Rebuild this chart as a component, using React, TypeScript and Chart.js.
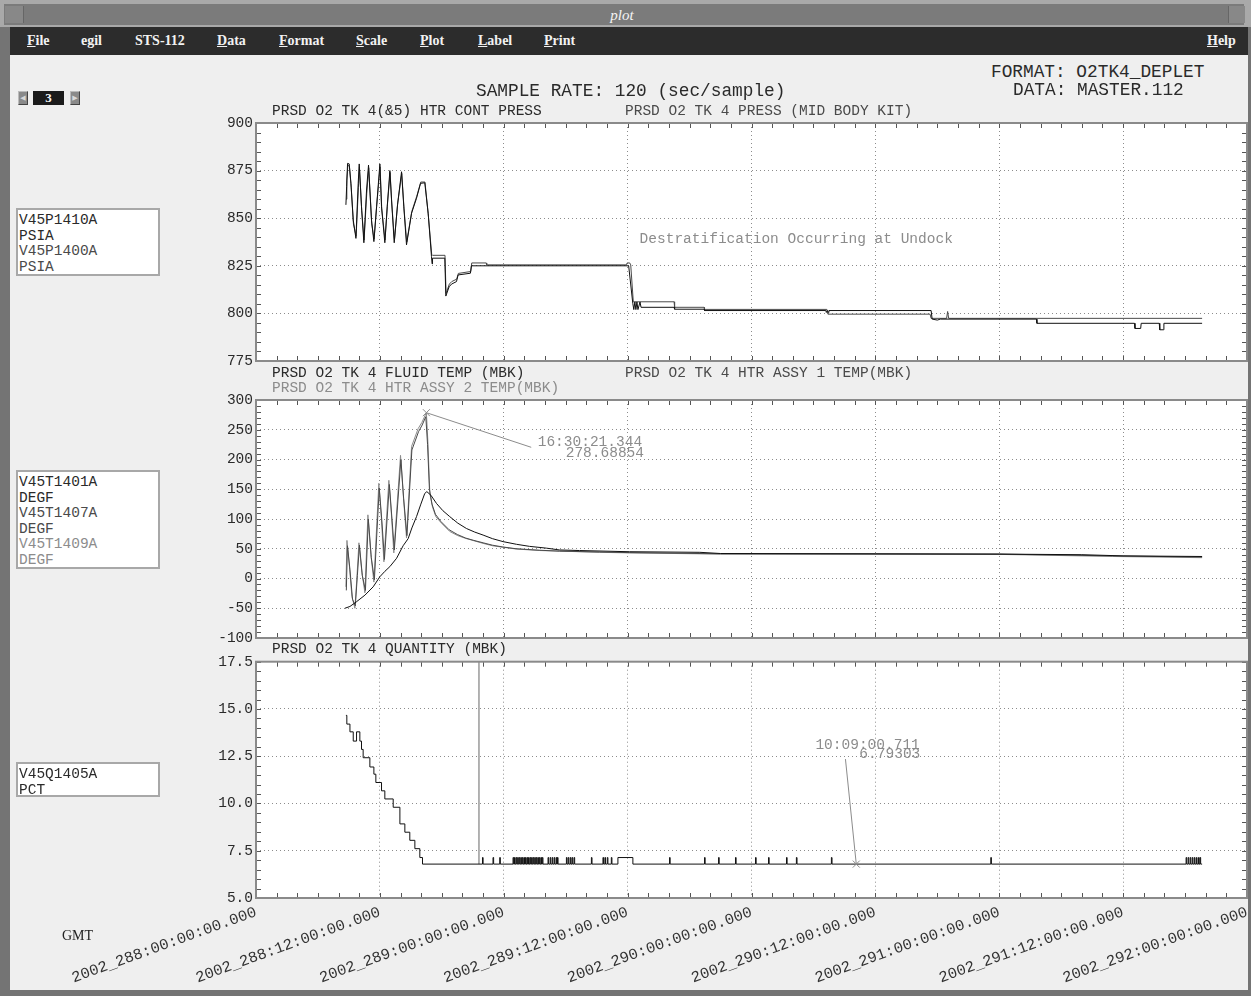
import React, { useEffect, useRef } from 'react';
import { Chart, registerables } from 'chart.js';

Chart.register(...registerables);

const MONO = '"Liberation Mono", "DejaVu Sans Mono", monospace';
const SERIF = '"Liberation Serif", "DejaVu Serif", serif';

// ---------- axes (x in hours since 2002_288:00:00:00.000) ----------
const xStartDay = 288;
const xMaxHours = 96;
const xMajorStep = 12;
const xMinorStep = 2;

const pressAxis = { min: 775, max: 900, step: 25, minor: 5 };
const tempAxis = { min: -100, max: 300, step: 50, minor: 10 };
const qtyAxis = { min: 5, max: 17.5, step: 2.5, minor: 0.5 };

// ---------- series ----------
// V45P1410A  PRSD O2 TK 4(&5) HTR CONT PRESS  [hours, psia]
const pressP1410: [number, number][] = [
  [8.71, 857], [8.78, 866.5], [8.87, 878.8], [9.03, 878.5], [9.2, 868.3], [9.42, 849], [9.68, 839.4],
  [9.9, 868.3], [10.0, 878.5], [10.22, 856], [10.45, 837.1], [10.71, 864.8], [10.9, 877.9], [11.19, 849],
  [11.42, 837.7], [11.68, 856], [12.0, 878.5], [12.16, 856], [12.48, 837.1], [12.71, 856], [12.97, 875],
  [13.13, 859.6], [13.39, 837.1], [13.71, 857], [14.1, 874.4], [14.32, 856], [14.58, 836], [15.07, 852.6],
  [15.55, 860.5], [15.94, 868.3], [16.35, 868.6], [16.68, 852.6], [17.0, 829.8], [17.06, 826], [17.1, 829],
  [18.29, 829], [18.39, 809.1], [18.71, 814], [18.94, 815.4], [19.42, 816.7], [19.58, 820.2], [20.77, 821.1],
  [20.87, 825], [36.1, 825], [36.5, 805.3], [36.6, 802], [36.7, 806], [36.8, 802], [36.9, 806], [37.0, 802],
  [37.2, 806], [37.3, 803.2], [40.5, 803.2], [40.55, 802.2], [43.4, 802.2], [43.45, 801.5], [55.2, 801.5],
  [55.25, 800.5], [55.35, 801.5], [55.45, 800.5], [55.5, 801.5], [65.4, 801.5], [65.5, 797], [66.0, 796.5],
  [66.3, 797], [75.6, 797], [75.65, 794.8], [85.1, 794.8], [85.15, 792.1], [85.7, 792.1], [85.75, 794.8],
  [87.5, 794.8], [87.55, 791.4], [87.9, 791.4], [87.95, 794.8], [91.65, 794.8],
];
// V45P1400A  PRSD O2 TK 4 PRESS (MID BODY KIT)
const pressP1400: [number, number][] = [
  [8.72, 860], [8.8, 870], [8.9, 878], [9.05, 877], [9.22, 866], [9.44, 847], [9.7, 840.5],
  [9.92, 866], [10.02, 877], [10.24, 854], [10.47, 838.5], [10.73, 863], [10.92, 876.5], [11.21, 847],
  [11.44, 839], [11.7, 857], [12.02, 877], [12.18, 855], [12.5, 838.5], [12.73, 857], [12.99, 874],
  [13.15, 858], [13.41, 838.5], [13.73, 858], [14.12, 873.5], [14.34, 855], [14.6, 837.5], [15.09, 853.5],
  [15.57, 861.5], [15.96, 869], [16.37, 869], [16.7, 851], [17.02, 831], [17.1, 830.5], [18.31, 830.5],
  [18.41, 810.5], [18.73, 815.4], [18.96, 816.7], [19.44, 818], [19.6, 821], [20.8, 822], [20.9, 826.5],
  [22.3, 826.5], [22.35, 825.5], [35.9, 825.5], [35.95, 826.5], [36.2, 826.5], [36.3, 825.5], [36.55, 806.1],
  [40.5, 806.1], [40.55, 803.2], [43.4, 803.2], [43.45, 802.1], [55.3, 802.1], [55.4, 799.6], [65.3, 799.6],
  [65.4, 797.4], [66.9, 797.4], [67.0, 801], [67.1, 797.4], [91.65, 797.4],
];

// V45T1401A  PRSD O2 TK 4 FLUID TEMP (MBK)  [hours, degF]
const tempT1401: [number, number][] = [
  [8.61, -50], [9.1, -47], [9.74, -39], [10.55, -28], [11.35, -14], [12.0, 3], [12.48, 12], [12.97, 20],
  [13.62, 34], [14.25, 55], [14.74, 67], [15.1, 85], [15.55, 104], [15.97, 125], [16.35, 143], [16.55, 146],
  [16.94, 140], [17.49, 126], [18.1, 114], [18.77, 104], [19.55, 93], [20.39, 84], [21.19, 78], [22.0, 73],
  [22.9, 67], [23.93, 62], [25.23, 57.5], [26.5, 54], [28.13, 51], [29.4, 48], [31.35, 47], [36.2, 45],
  [43, 44], [45, 42], [60, 41.5], [72, 41], [80, 40], [84, 38], [91.65, 37],
];
// V45T1407A  PRSD O2 TK 4 HTR ASSY 1 TEMP(MBK)
const tempT1407: [number, number][] = [
  [8.75, -20], [8.86, 55], [9.1, 15], [9.35, -35], [9.62, -46], [9.82, 5], [10.02, 56], [10.3, 5],
  [10.6, -20], [10.88, 100], [11.17, 35], [11.47, -2], [11.94, 152], [12.2, 95], [12.44, 32], [12.92, 158],
  [13.15, 105], [13.4, 48], [14.04, 200], [14.3, 135], [14.62, 72], [15.1, 216], [15.75, 247], [16.1, 258],
  [16.45, 272], [16.62, 225], [16.8, 150], [17.05, 125], [17.38, 108], [17.9, 96], [18.7, 82], [19.5, 74],
  [20.3, 68], [21.1, 64], [22.0, 60], [22.9, 56], [23.9, 53], [25.2, 50], [27.5, 47.5], [29.4, 46],
  [33.3, 44.5], [36.2, 43.5], [45, 41.5], [72, 41], [83, 38], [91.65, 36],
];
// V45T1409A  PRSD O2 TK 4 HTR ASSY 2 TEMP(MBK)
const tempT1409: [number, number][] = [
  [8.71, -14], [8.81, 64], [9.05, 20], [9.29, -30], [9.58, -50], [9.77, 0], [9.97, 60], [10.26, 10],
  [10.55, -24], [10.84, 107], [11.13, 40], [11.42, -6], [11.9, 160], [12.15, 100], [12.39, 28], [12.87, 165],
  [13.11, 110], [13.35, 43], [14.0, 207], [14.27, 140], [14.58, 68], [15.07, 222], [15.71, 252], [16.06, 262],
  [16.506, 278.69], [16.65, 230], [16.84, 143], [17.1, 120], [17.42, 104], [17.97, 93], [18.77, 79],
  [19.55, 72], [20.39, 67], [21.2, 63], [22.0, 59], [22.93, 55], [23.93, 52.5], [25.23, 49.5], [27.5, 47],
  [29.4, 46], [33.3, 44], [36.2, 43], [45, 41], [72, 40.5], [83, 37], [91.65, 35],
];

// V45Q1405A  PRSD O2 TK 4 QUANTITY (MBK)  [hours, pct]  (value held until next sample)
const qtyStairs: [number, number][] = [
  [8.71, 14.66], [8.8, 14.2], [9.1, 13.79], [9.42, 13.3], [9.74, 13.79], [10.06, 13.3], [10.22, 12.86],
  [10.38, 12.42], [11.03, 11.93], [11.42, 11.55], [11.61, 11.11], [12.16, 10.67], [12.48, 10.24],
  [13.29, 9.8], [13.94, 8.92], [14.42, 8.48], [14.9, 8.05], [15.39, 7.61], [15.87, 7.14], [16.13, 6.79303],
];
const qtyLow = 6.79303;
const qtyHigh = 7.14;
const qtyDropout: [number, number] = [21.6, 100];
const qtyToggleHours: number[] = [
  21.94, 22.0, 22.96, 23.02, 23.61, 23.67,
  24.9, 24.96, 25.04, 25.1, 25.2, 25.26, 25.35, 25.41, 25.5, 25.56, 25.65, 25.71, 25.8, 25.86, 25.95, 26.01,
  26.1, 26.16, 26.25, 26.31, 26.4, 26.46, 26.55, 26.61, 26.7, 26.76, 26.85, 26.91, 27.0, 27.06, 27.15, 27.21,
  27.3, 27.36, 27.45, 27.51, 27.6, 27.66, 27.74, 27.8,
  28.29, 28.35, 28.5, 28.56, 28.7, 28.76, 28.9, 28.96, 29.1, 29.16, 29.2, 29.26,
  30.07, 30.13, 30.25, 30.31, 30.45, 30.51, 30.62, 30.68, 30.81, 30.87,
  32.49, 32.55, 33.61, 33.67, 33.8, 33.86, 34.03, 34.09, 34.42, 34.48, 35.06, 36.51,
  90.1, 90.16, 90.3, 90.36, 90.5, 90.56, 90.7, 90.76, 90.9, 90.96, 91.1, 91.16, 91.3, 91.36, 91.45, 91.51,
];
const qtySpikeHours: number[] = [40.06, 43.45, 44.81, 46.45, 48.39, 49.65, 51.39, 52.35, 55.74, 71.18];
const qtySpikeWidth = 0.06;
const qtyEndHour = 91.65;

// ---------- annotations (data coordinates) ----------
const tempCursor = { x: 16.506, y: 278.68854, time: '16:30:21.344', value: '278.68854' };
const tempCursorLabel = { x: 27.29, y: 228.6, vx: 30.0, vy: 210.9, lx: 26.66, ly: 220.5 };
const qtyCursor = { x: 58.15, y: 6.79303, time: '10:09:00.711', value: '6.79303' };
const qtyCursorLabel = { x: 54.19, y: 13.09, vx: 58.45, vy: 12.62, lx: 57.1, ly: 12.35 };
const pressNote = { x: 37.16, y: 839.1, text: 'Destratification Occurring at Undock' };

// ---------- helpers ----------
const BLACK = '#111111';
const DARK = '#4a4a4a';
const GRAY = '#8c8c8c';
const TEXT = '#2a2a2a';

const toXY = (arr: [number, number][]) => arr.map(([x, y]) => ({ x, y }));

function buildQuantity() {
  const pts = toXY(qtyStairs);
  const events: { t: number; kind: 'toggle' | 'spike' }[] = [
    ...qtyToggleHours.map((t) => ({ t, kind: 'toggle' as const })),
    ...qtySpikeHours.map((t) => ({ t, kind: 'spike' as const })),
  ].sort((a, b) => a.t - b.t);
  let state = qtyLow;
  for (const e of events) {
    if (e.kind === 'toggle') {
      state = state === qtyLow ? qtyHigh : qtyLow;
      pts.push({ x: e.t, y: state });
    } else {
      pts.push({ x: e.t, y: qtyHigh });
      pts.push({ x: e.t + qtySpikeWidth, y: qtyLow });
    }
  }
  pts.push({ x: qtyEndHour, y: qtyLow });
  return pts;
}

function gmtLabel(h: number) {
  const day = xStartDay + Math.floor(h / 24);
  const hh = String(h % 24).padStart(2, '0');
  return `2002_${day}:${hh}:00:00.000`;
}

const panelDeco = {
  id: 'panelDeco',
  beforeDraw(chart: any) {
    const { ctx, chartArea: a } = chart;
    ctx.save();
    ctx.fillStyle = '#ffffff';
    ctx.fillRect(a.left, a.top, a.right - a.left, a.bottom - a.top);
    ctx.restore();
  },
  afterDraw(chart: any, _args: any, opts: any) {
    const { ctx, chartArea: a, scales } = chart;
    const xs = scales.x;
    const ys = scales.y;
    ctx.save();
    ctx.strokeStyle = '#555555';
    ctx.lineWidth = 1;
    ctx.setLineDash([]);
    ctx.beginPath();
    for (let h = 0; h <= xMaxHours; h += xMinorStep) {
      const px = Math.round(xs.getPixelForValue(h)) + 0.5;
      ctx.moveTo(px, a.top);
      ctx.lineTo(px, a.top + 5);
      ctx.moveTo(px, a.bottom);
      ctx.lineTo(px, a.bottom - 5);
    }
    const ax = opts.axis;
    const n = Math.round((ax.max - ax.min) / ax.minor);
    for (let i = 0; i <= n; i++) {
      const py = Math.round(ys.getPixelForValue(ax.min + i * ax.minor)) + 0.5;
      ctx.moveTo(a.left, py);
      ctx.lineTo(a.left + 5, py);
      ctx.moveTo(a.right, py);
      ctx.lineTo(a.right - 5, py);
    }
    ctx.stroke();
    ctx.strokeStyle = '#8a8a8a';
    ctx.lineWidth = 2;
    ctx.strokeRect(a.left, a.top, a.right - a.left, a.bottom - a.top);

    const ann = opts.ann || {};
    ctx.strokeStyle = GRAY;
    ctx.lineWidth = 1;
    for (const l of ann.leaders || []) {
      ctx.beginPath();
      ctx.moveTo(xs.getPixelForValue(l[0]), ys.getPixelForValue(l[1]));
      ctx.lineTo(xs.getPixelForValue(l[2]), ys.getPixelForValue(l[3]));
      ctx.stroke();
    }
    for (const m of ann.markers || []) {
      const px = xs.getPixelForValue(m[0]);
      const py = ys.getPixelForValue(m[1]);
      ctx.beginPath();
      ctx.moveTo(px - 3.5, py - 3.5);
      ctx.lineTo(px + 3.5, py + 3.5);
      ctx.moveTo(px + 3.5, py - 3.5);
      ctx.lineTo(px - 3.5, py + 3.5);
      ctx.stroke();
    }
    ctx.font = `14.5px ${MONO}`;
    ctx.textBaseline = 'middle';
    ctx.textAlign = 'left';
    for (const t of ann.texts || []) {
      ctx.fillStyle = t.color;
      ctx.fillText(t.text, xs.getPixelForValue(t.x), ys.getPixelForValue(t.y));
    }
    ctx.restore();
  },
};

function makeConfig(p: {
  datasets: any[];
  axis: { min: number; max: number; step: number; minor: number };
  fmt: (v: number) => string;
  padTop: number;
  padBottom: number;
  showX: boolean;
  ann: any;
}): any {
  const tickFont = { family: MONO, size: 14.5 };
  return {
    type: 'line',
    data: { datasets: p.datasets },
    options: {
      animation: false,
      responsive: false,
      maintainAspectRatio: false,
      events: [],
      layout: { padding: { left: 0, right: 4, top: p.padTop, bottom: p.padBottom } },
      elements: { point: { radius: 0 }, line: { borderWidth: 1, tension: 0 } },
      plugins: {
        legend: { display: false },
        tooltip: { enabled: false },
        panelDeco: { axis: p.axis, ann: p.ann },
      },
      scales: {
        x: {
          type: 'linear',
          min: 0,
          max: xMaxHours,
          ticks: {
            display: p.showX,
            stepSize: xMajorStep,
            autoSkip: false,
            minRotation: 20,
            maxRotation: 20,
            padding: 5,
            color: '#333333',
            font: { family: MONO, size: 15.5 },
            callback: (v: number) => gmtLabel(v),
          },
          grid: { color: '#8c8c8c', drawTicks: false, lineWidth: 1 },
          border: { display: false, dash: [1, 3] },
          afterFit: (s: any) => {
            s.height = p.showX ? 98 : 0;
            s.paddingLeft = 0;
            s.paddingRight = 0;
          },
        },
        y: {
          type: 'linear',
          min: p.axis.min,
          max: p.axis.max,
          ticks: {
            stepSize: p.axis.step,
            padding: 3,
            color: TEXT,
            font: tickFont,
            callback: (v: number) => p.fmt(v),
          },
          grid: { color: '#8c8c8c', drawTicks: false, lineWidth: 1 },
          border: { display: false, dash: [1, 3] },
          afterFit: (s: any) => {
            s.width = 256;
          },
        },
      },
    },
    plugins: [panelDeco],
  };
}

const line = (data: any[], color: string, stepped: any = false) => ({
  data,
  borderColor: color,
  backgroundColor: color,
  borderWidth: 1,
  pointRadius: 0,
  fill: false,
  stepped,
});

const txt = (left: number, cy: number, text: string, color = TEXT, size = 14.5): any => (
  <div
    style={{
      position: 'absolute',
      left,
      top: cy - 9,
      height: 18,
      lineHeight: '18px',
      whiteSpace: 'pre',
      fontFamily: MONO,
      fontSize: size,
      color,
      zIndex: 3,
    }}
  >
    {text}
  </div>
);

function LegendBox({ top, height, lines }: { top: number; height: number; lines: [string, string][] }) {
  return (
    <div
      style={{
        position: 'absolute',
        left: 16,
        top,
        width: 144,
        height,
        boxSizing: 'border-box',
        background: '#ffffff',
        border: '2px solid #a8a8a8',
        paddingTop: 3,
        paddingLeft: 1,
        zIndex: 3,
      }}
    >
      {lines.map(([t, c], i) => (
        <div key={i} style={{ fontFamily: MONO, fontSize: 14.5, lineHeight: '15.6px', color: c, whiteSpace: 'pre' }}>
          {t}
        </div>
      ))}
    </div>
  );
}

const menuItems: [string, number, boolean][] = [
  ['File', 27, true], ['egil', 81, false], ['STS-112', 135, false], ['Data', 217, true],
  ['Format', 279, true], ['Scale', 356, true], ['Plot', 420, true], ['Label', 478, true], ['Print', 544, true],
];

const arrowBtn = (left: number, dir: string): any => (
  <div
    style={{
      position: 'absolute', left, top: 91, width: 10, height: 14, background: '#8a8a8a',
      borderTop: '1px solid #bbb', borderLeft: '1px solid #bbb', borderRight: '1px solid #444', borderBottom: '1px solid #444',
      boxSizing: 'border-box', color: '#d8d8d8', fontSize: 7, lineHeight: '12px', textAlign: 'center', fontFamily: SERIF,
    }}
  >
    {dir}
  </div>
);

export default function App() {
  const c1 = useRef<HTMLCanvasElement>(null);
  const c2 = useRef<HTMLCanvasElement>(null);
  const c3 = useRef<HTMLCanvasElement>(null);

  useEffect(() => {
    const charts = [
      new Chart(
        c1.current as HTMLCanvasElement,
        makeConfig({
          datasets: [line(toXY(pressP1410), BLACK), line(toXY(pressP1400), DARK)],
          axis: pressAxis,
          fmt: (v) => String(v),
          padTop: 23,
          padBottom: 19,
          showX: false,
          ann: { texts: [{ x: pressNote.x, y: pressNote.y, text: pressNote.text, color: GRAY }] },
        })
      ),
      new Chart(
        c2.current as HTMLCanvasElement,
        makeConfig({
          datasets: [line(toXY(tempT1401), BLACK), line(toXY(tempT1407), DARK), line(toXY(tempT1409), GRAY)],
          axis: tempAxis,
          fmt: (v) => String(v),
          padTop: 20,
          padBottom: 12,
          showX: false,
          ann: {
            markers: [[tempCursor.x, tempCursor.y]],
            leaders: [[tempCursor.x, tempCursor.y, tempCursorLabel.lx, tempCursorLabel.ly]],
            texts: [
              { x: tempCursorLabel.x, y: tempCursorLabel.y, text: tempCursor.time, color: GRAY },
              { x: tempCursorLabel.vx, y: tempCursorLabel.vy, text: tempCursor.value, color: GRAY },
            ],
          },
        })
      ),
      new Chart(
        c3.current as HTMLCanvasElement,
        makeConfig({
          datasets: [
            line(buildQuantity(), BLACK, 'before'),
            line(toXY([[qtyDropout[0], qtyLow], [qtyDropout[0], qtyDropout[1]]]), '#666666'),
          ],
          axis: qtyAxis,
          fmt: (v) => v.toFixed(1),
          padTop: 10,
          padBottom: 0,
          showX: true,
          ann: {
            markers: [[qtyCursor.x, qtyCursor.y]],
            leaders: [[qtyCursor.x, qtyCursor.y, qtyCursorLabel.lx, qtyCursorLabel.ly]],
            texts: [
              { x: qtyCursorLabel.x, y: qtyCursorLabel.y, text: qtyCursor.time, color: GRAY },
              { x: qtyCursorLabel.vx, y: qtyCursorLabel.vy, text: qtyCursor.value, color: GRAY },
            ],
          },
        })
      ),
    ];
    return () => charts.forEach((c) => c.destroy());
  }, []);

  const canvasStyle = (top: number, height: number): any => ({
    position: 'absolute',
    left: 0,
    top,
    width: 1251,
    height,
    zIndex: 2,
  });

  return (
    <div style={{ position: 'fixed', left: 0, top: 0, width: 1251, height: 996, background: '#747474', overflow: 'hidden' }}>
      {/* title bar */}
      <div style={{ position: 'absolute', left: 0, top: 0, width: 1251, height: 27, background: '#a9a9a9' }} />
      <div style={{ position: 'absolute', left: 4, top: 4, width: 1240, height: 21, background: '#7b7b7b' }} />
      <div style={{ position: 'absolute', left: 5, top: 6, width: 18, height: 17, background: '#888', borderRight: '1px solid #666' }} />
      <div style={{ position: 'absolute', left: 1228, top: 6, width: 16, height: 17, background: '#888', borderLeft: '1px solid #666' }} />
      <div
        style={{
          position: 'absolute', left: 572, width: 100, top: 5, textAlign: 'center',
          fontFamily: SERIF, fontStyle: 'italic', fontSize: 15, color: '#f4f4f4', lineHeight: '20px',
        }}
      >
        plot
      </div>
      {/* menu bar */}
      <div style={{ position: 'absolute', left: 10, top: 27, width: 1238, height: 28, background: '#2c2c2c' }} />
      {menuItems.map(([t, x, u]) => (
        <div
          key={t}
          style={{
            position: 'absolute', left: x, top: 32, fontFamily: SERIF, fontWeight: 'bold', fontSize: 14,
            color: '#f2f2f2', lineHeight: '18px', whiteSpace: 'pre',
          }}
        >
          {u ? (<><span style={{ textDecoration: 'underline' }}>{t[0]}</span>{t.slice(1)}</>) : t}
        </div>
      ))}
      <div
        style={{
          position: 'absolute', left: 1207, top: 32, fontFamily: SERIF, fontWeight: 'bold', fontSize: 14,
          color: '#f2f2f2', lineHeight: '18px',
        }}
      >
        <span style={{ textDecoration: 'underline' }}>H</span>elp
      </div>
      {/* content */}
      <div style={{ position: 'absolute', left: 10, top: 55, width: 1238, height: 935, background: '#efefef' }} />

      {/* page control */}
      {arrowBtn(18, '◀')}
      <div
        style={{
          position: 'absolute', left: 33, top: 91, width: 31, height: 14, background: '#1b1b1b', color: '#f5f5f5',
          fontFamily: SERIF, fontWeight: 'bold', fontSize: 13, lineHeight: '14px', textAlign: 'center',
        }}
      >
        3
      </div>
      {arrowBtn(70, '▶')}

      {/* header texts */}
      {txt(476, 91, 'SAMPLE RATE: 120 (sec/sample)', TEXT, 17.8)}
      {txt(991, 72, 'FORMAT: O2TK4_DEPLET', TEXT, 17.8)}
      {txt(1013, 90, 'DATA: MASTER.112', TEXT, 17.8)}

      {/* panel titles */}
      {txt(272, 111, 'PRSD O2 TK 4(&5) HTR CONT PRESS', TEXT)}
      {txt(625, 111, 'PRSD O2 TK 4 PRESS (MID BODY KIT)', DARK)}
      {txt(272, 373, 'PRSD O2 TK 4 FLUID TEMP (MBK)', TEXT)}
      {txt(625, 373, 'PRSD O2 TK 4 HTR ASSY 1 TEMP(MBK)', DARK)}
      {txt(272, 388, 'PRSD O2 TK 4 HTR ASSY 2 TEMP(MBK)', GRAY)}
      {txt(272, 649, 'PRSD O2 TK 4 QUANTITY (MBK)', TEXT)}

      {/* legend boxes */}
      <LegendBox top={208} height={68} lines={[['V45P1410A', TEXT], ['PSIA', TEXT], ['V45P1400A', DARK], ['PSIA', DARK]]} />
      <LegendBox
        top={470}
        height={99}
        lines={[['V45T1401A', TEXT], ['DEGF', TEXT], ['V45T1407A', DARK], ['DEGF', DARK], ['V45T1409A', GRAY], ['DEGF', GRAY]]}
      />
      <LegendBox top={762} height={35} lines={[['V45Q1405A', TEXT], ['PCT', TEXT]]} />

      <div style={{ position: 'absolute', left: 62, top: 927, fontFamily: SERIF, fontSize: 14, color: '#222', lineHeight: '18px', zIndex: 3 }}>
        GMT
      </div>

      <canvas ref={c1} width={1251} height={280} style={canvasStyle(100, 280)} />
      <canvas ref={c2} width={1251} height={270} style={canvasStyle(380, 270)} />
      <canvas ref={c3} width={1251} height={346} style={canvasStyle(650, 346)} />
    </div>
  );
}
